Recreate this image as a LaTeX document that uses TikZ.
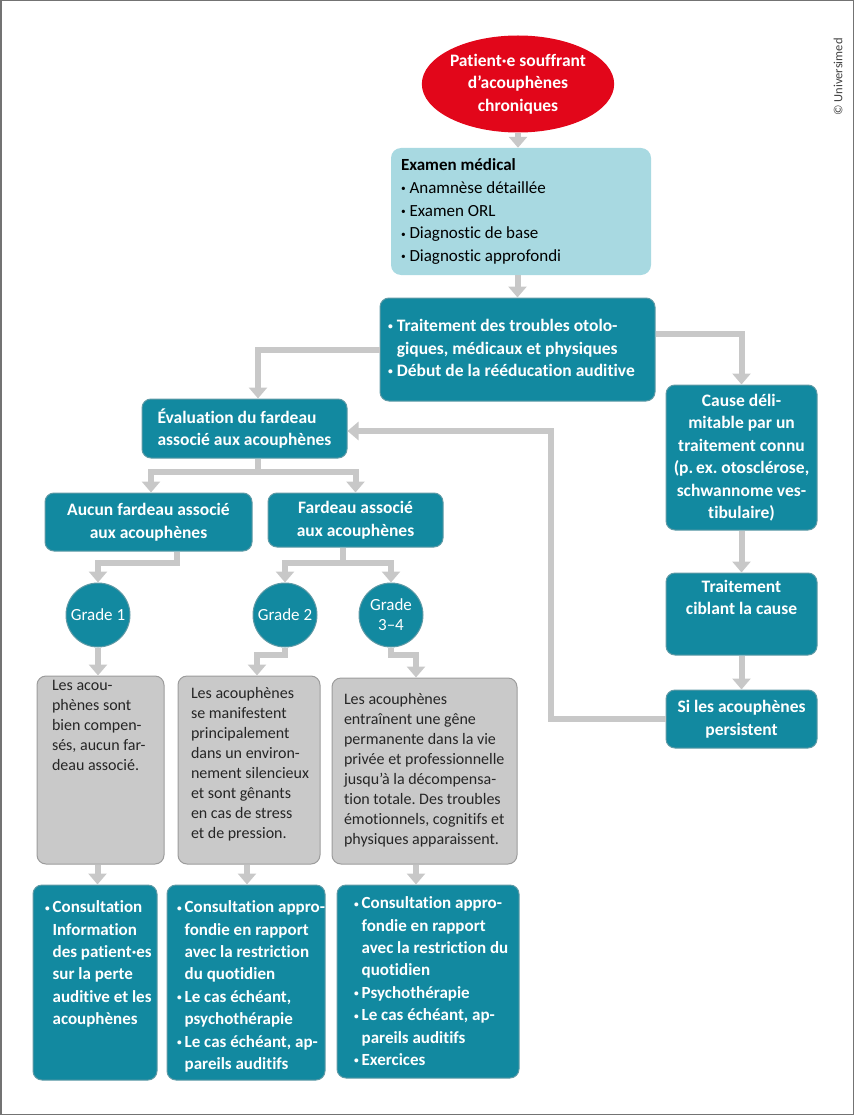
\documentclass[tikz,border=0pt]{standalone}
\usepackage{fontspec}
\setmainfont{Carlito}[Ligatures=NoCommon]
\usepackage{tikz}
\usetikzlibrary{arrows.meta,shapes.geometric}
\frenchspacing

\definecolor{tealfill}{HTML}{1289A0}
\definecolor{tealline}{HTML}{5F9AA6}
\definecolor{skyfill}{HTML}{A8D9E1}
\definecolor{greyfill}{HTML}{C9C9C9}
\definecolor{greyline}{HTML}{9C9C9C}
\definecolor{redfill}{HTML}{E2061A}
\definecolor{linkgrey}{HTML}{C8C8C8}

\newcommand\boldtxt{\fontsize{17.5}{22.5}\selectfont\bfseries}
\newcommand\skytxt{\fontsize{17}{22.7}\selectfont}
\newcommand\greytxt{\fontsize{16}{20}\selectfont}
\newcommand\bul{\raisebox{0.09em}{\scalebox{0.55}{\textbullet}}}
\newcommand\topbox[3]{\parbox[c][#1][t]{#2}{#3}}

\tikzset{
  >={Triangle[width=18pt,length=11pt]},
  link/.style={draw=linkgrey, line width=6pt},
  dims/.style 2 args={minimum width=#1, minimum height=#2},
  tealbox/.style={draw=tealline, fill=tealfill, line width=1pt, rounded corners=9pt,
    text=white, font=\boldtxt, inner sep=0pt, align=center},
  skybox/.style={fill=skyfill, rounded corners=10pt, text=black, font=\skytxt, inner sep=0pt},
  greybox/.style={draw=greyline, fill=greyfill, line width=1pt, rounded corners=9pt,
    text=black!85, font=\greytxt, inner sep=0pt},
  grade/.style={circle, draw=tealline, fill=tealfill, line width=1pt, minimum size=64pt,
    inner sep=0pt, text=white, font=\fontsize{17}{20}\selectfont, align=center}
}

\begin{document}
\begin{tikzpicture}[x=1pt, y=-1pt]
  \useasboundingbox (0,0) rectangle (854,1115);
  \draw[black!55, line width=1.5pt] (0.75,0.75) rectangle (853.25,1114.25);
  \node[rotate=90, text=black!75, font=\fontsize{12.5}{14}\selectfont] (copy) at (838,77) {© Universimed};

  % top of the flow
  \node[ellipse, fill=redfill, dims={184pt}{97pt}, inner sep=0pt, text=white, font=\boldtxt,
    align=center] (patient) at (518,84) {Patient·e souffrant\\d’acouphènes\\chroniques};
  \node[skybox, dims={260pt}{127pt}] (examen) at (521,211.5) {\parbox{240pt}{%
    \begin{tabular}{@{}l@{}}
      \textbf{Examen médical}\\
      \bul{} Anamnèse détaillée\\
      \bul{} Examen ORL\\
      \bul{} Diagnostic de base\\
      \bul{} Diagnostic approfondi
    \end{tabular}}};
  \node[tealbox, dims={275pt}{103pt}] (traitement) at (517.5,349.5) {\parbox{259pt}{%
    \begin{tabular}{@{}l@{\hspace{4pt}}l@{}}
      \bul & Traitement des troubles otolo-\\
           & giques, médicaux et physiques\\
      \bul & Début de la rééducation auditive
    \end{tabular}}};

  % right branch
  \node[tealbox, dims={151pt}{145pt}] (cause) at (741.5,457.5)
    {Cause déli-\\mitable par un\\traitement connu\\(p.\,ex. otosclérose,\\schwannome ves-\\tibulaire)};
  \node[tealbox, dims={151pt}{82pt}] (ciblant) at (741.5,614)
    {\topbox{68pt}{140pt}{\centering Traitement\\ciblant la cause}};
  \node[tealbox, dims={151pt}{58pt}] (persist) at (741.5,719) {Si les acouphènes\\persistent};

  % burden
  \node[tealbox, dims={205pt}{59pt}, align=left] (evaluation) at (244.5,428.5)
    {Évaluation du fardeau\\associé aux acouphènes};
  \node[tealbox, dims={207pt}{58pt}] (aucun) at (148.5,522) {Aucun fardeau associé\\aux acouphènes};
  \node[tealbox, dims={175pt}{54pt}] (fardeau) at (355.5,520) {Fardeau associé\\aux acouphènes};

  \node[grade] (g1) at (98,615) {Grade 1};
  \node[grade] (g2) at (285,615) {Grade 2};
  \node[grade] (g3) at (391,615) {Grade\\3–4};

  % descriptions
  \node[greybox, dims={127pt}{188pt}] (desc1) at (100.5,770) {\topbox{187pt}{97pt}{%
    \begin{tabular}{@{}l@{}}
      Les acou-\\phènes sont\\bien compen-\\sés, aucun far-\\deau associé.
    \end{tabular}}};
  \node[greybox, dims={142pt}{188pt}] (desc2) at (249,770) {\topbox{171pt}{116pt}{%
    \begin{tabular}{@{}l@{}}
      Les acouphènes\\se manifestent\\principalement\\dans un environ-\\nement silencieux\\
      et sont gênants\\en cas de stress\\et de pression.
    \end{tabular}}};
  \node[greybox, dims={185pt}{186pt}] (desc3) at (424.5,771) {\topbox{161pt}{161pt}{%
    \begin{tabular}{@{}l@{}}
      Les acouphènes\\entraînent une gêne\\permanente dans la vie\\privée et professionnelle\\
      jusqu’à la décompensa-\\tion totale. Des troubles\\émotionnels, cognitifs et\\physiques apparaissent.
    \end{tabular}}};

  % therapies
  \node[tealbox, dims={124pt}{195pt}, font=\fontsize{17}{22.4}\selectfont\bfseries] (ther1) at (95,982.5)
    {\topbox{171pt}{100pt}{%
    \begin{tabular}{@{}l@{\hspace{3pt}}l@{}}
      \bul & Consultation\\ & Information\\ & des patient·es\\ & sur la perte\\ & auditive et les\\ & acouphènes
    \end{tabular}}};
  \node[tealbox, dims={158pt}{195pt}, font=\fontsize{17}{22.4}\selectfont\bfseries] (ther2) at (246,982.5)
    {\topbox{171pt}{138pt}{%
    \begin{tabular}{@{}l@{\hspace{3pt}}l@{}}
      \bul & Consultation appro-\\ & fondie en rapport\\ & avec la restriction\\ & du quotidien\\
      \bul & Le cas échéant,\\ & psychothérapie\\
      \bul & Le cas échéant, ap-\\ & pareils auditifs
    \end{tabular}}};
  \node[tealbox, dims={182pt}{193pt}, font=\fontsize{17}{22.4}\selectfont\bfseries] (ther3) at (428,981.5)
    {\topbox{177pt}{148pt}{%
    \begin{tabular}{@{}l@{\hspace{3pt}}l@{}}
      \bul & Consultation appro-\\ & fondie en rapport\\ & avec la restriction du\\ & quotidien\\
      \bul & Psychothérapie\\
      \bul & Le cas échéant, ap-\\ & pareils auditifs\\
      \bul & Exercices
    \end{tabular}}};

  % bends of the connectors
  \coordinate (back) at (551,431);
  \coordinate (evalsplit) at (258,472);
  \coordinate (aucunbend) at (177,563);
  \coordinate (fardsplit) at (343,563);
  \coordinate (g2bend) at (285,655);
  \coordinate (g3bend) at (391,655);
  \coordinate (evaltop) at ([xshift=13.5pt]evaluation.north);
  \coordinate (causein) at ([yshift=15.5pt]traitement.east);
  \coordinate (desc2in) at ([xshift=8pt]desc2.north);
  \coordinate (desc3in) at ([xshift=-8.5pt]desc3.north);
  \coordinate (down1) at ([xshift=-3pt]desc1.south);
  \coordinate (down2) at ([xshift=-2pt]desc2.south);
  \coordinate (down3) at ([xshift=-8.5pt]desc3.south);

  \draw[link,->] (patient.south) -- (patient.south |- examen.north);
  \draw[link,->] (traitement.north |- examen.south) -- (traitement.north);
  \draw[link,->] (traitement.west) -| (evaltop);
  \draw[link,->] (causein) -| (cause.north);
  \draw[link,->] (cause) -- (ciblant);
  \draw[link,->] (ciblant) -- (persist);
  \draw[link,->] (persist.west) -| (back) -- (evaluation.east |- back);

  \draw[link] (evalsplit |- evaluation.south) -- (evalsplit);
  \draw[link,->] (evalsplit) -| ([xshift=2.5pt]aucun.north);
  \draw[link,->] (evalsplit) -| (fardeau.north);
  \draw[link,->] (aucunbend |- aucun.south) -- (aucunbend) -| (g1.north);
  \draw[link] (fardsplit |- fardeau.south) -- (fardsplit);
  \draw[link,->] (fardsplit) -| (g2.north);
  \draw[link,->] (fardsplit) -| (g3.north);

  \draw[link,->] (g1.south) -- (g1.south |- desc1.north);
  \draw[link,->] (g2.south) -- (g2bend) -| (desc2in);
  \draw[link,->] (g3.south) -- (g3bend) -| (desc3in);
  \draw[link,->] (down1) -- (down1 |- ther1.north);
  \draw[link,->] (down2) -- (down2 |- ther2.north);
  \draw[link,->] (down3) -- (down3 |- ther3.north);
\end{tikzpicture}
\end{document}
